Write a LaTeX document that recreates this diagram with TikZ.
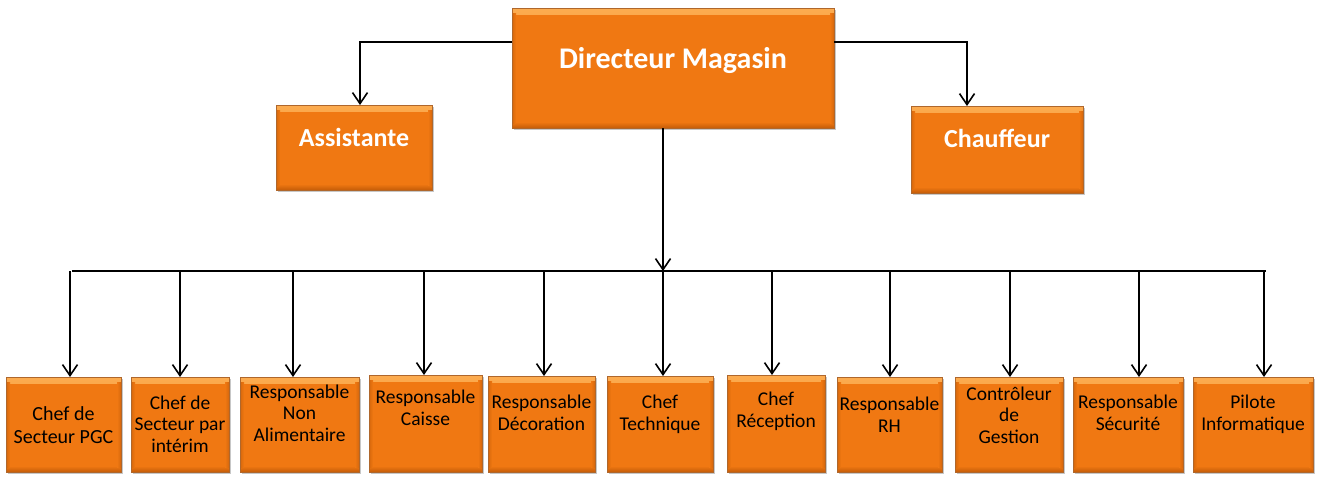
\documentclass[tikz,border=0pt]{standalone}
\usepackage{fontspec}
\setmainfont{Carlito}
\usetikzlibrary{arrows.meta,shadows}

\definecolor{org}{RGB}{240,120,18}
\definecolor{orglight}{RGB}{252,172,80}
\definecolor{orgdark}{RGB}{196,92,8}

\tikzset{
  obox/.style={rectangle, inner sep=0pt, outer sep=0pt, anchor=north west,
    fill=org, draw=orgdark!70!gray, line width=0.5pt,
    drop shadow={shadow xshift=1.5pt, shadow yshift=-1.5pt, fill=black, opacity=0.22},
    path picture={
      \shade[top color=orglight, bottom color=org]
        (path picture bounding box.north west) rectangle ([yshift=-6pt]path picture bounding box.north east);
      \shade[top color=org, bottom color=orgdark]
        ([yshift=6pt]path picture bounding box.south west) rectangle (path picture bounding box.south east);
      \shade[left color=orgdark!60!org, right color=org]
        ([yshift=-5pt]path picture bounding box.north west) rectangle ([xshift=4pt,yshift=5pt]path picture bounding box.south west);
      \shade[left color=org, right color=orgdark!60!org]
        ([xshift=-4pt,yshift=-5pt]path picture bounding box.north east) rectangle ([yshift=5pt]path picture bounding box.south east);
    }},
  ttl/.style={anchor=base, text=white, font=\bfseries\fontsize{26}{30}\selectfont, inner sep=0pt},
  % labels are placed by the baseline of their last line
  lbl/.style={anchor=base, text=black, align=center, inner sep=0pt,
    font=\fontsize{19.5}{21.5}\selectfont},
  conn/.style={draw=black, line width=1.6pt},
  arr/.style={conn, -{Straight Barb[length=11pt, width=15pt, line width=1.6pt]}},
}

\begin{document}
\begin{tikzpicture}[x=1pt, y=-1pt]
\useasboundingbox (0,0) rectangle (1317,477);

% top level
\node[obox, minimum width=322pt, minimum height=120pt] (dir) at (512,8) {};
\node[obox, minimum width=156pt, minimum height=85pt] (asst) at (276,105) {};
\node[obox, minimum width=172pt, minimum height=87pt] (chauf) at (911,106) {};
\node[ttl, font=\bfseries\fontsize{30}{34}\selectfont] (dirT) at (673,68) {Directeur Magasin};
\node[ttl] (asstT) at (354,146) {Assistante};
\node[ttl] (chaufT) at (997,147) {Chauffeur};

% bottom row boxes
\node[obox, minimum width=115pt, minimum height=95pt] (b1) at (6,377) {};
\node[obox, minimum width=98pt,  minimum height=95pt] (b2) at (131,377) {};
\node[obox, minimum width=119pt, minimum height=95pt] (b3) at (240,377) {};
\node[obox, minimum width=113pt, minimum height=97pt] (b4) at (369,375) {};
\node[obox, minimum width=107pt, minimum height=96pt] (b5) at (488,376) {};
\node[obox, minimum width=106pt, minimum height=96pt] (b6) at (607,376) {};
\node[obox, minimum width=98pt,  minimum height=97pt] (b7) at (727,375) {};
\node[obox, minimum width=105pt, minimum height=95pt] (b8) at (837,377) {};
\node[obox, minimum width=108pt, minimum height=95pt] (b9) at (955,377) {};
\node[obox, minimum width=110pt, minimum height=95pt] (b10) at (1073,377) {};
\node[obox, minimum width=120pt, minimum height=95pt] (b11) at (1193,377) {};

% bottom row labels
\node[lbl, font=\fontsize{20}{23}\selectfont] (l1) at (b1.center |- 0,443) {Chef de\\Secteur PGC};
\node[lbl] (l2) at (b2.center |- 0,452) {Chef de\\Secteur par\\intérim};
\node[lbl] (l3) at (b3.center |- 0,441) {Responsable\\Non\\Alimentaire};
\node[lbl] (l4) at (b4.center |- 0,425) {Responsable\\Caisse};
\node[lbl] (l5) at (b5.center |- 0,430) {Responsable\\Décoration};
\node[lbl] (l6) at (b6.center |- 0,430) {Chef\\Technique};
\node[lbl] (l7) at (b7.center |- 0,427) {Chef\\Réception};
\node[lbl] (l8) at (b8.center |- 0,432) {Responsable\\RH};
\node[lbl] (l9) at (b9.center |- 0,443) {Contrôleur\\de\\Gestion};
\node[lbl] (l10) at (b10.center |- 0,430) {Responsable\\Sécurité};
\node[lbl] (l11) at (b11.center |- 0,430) {Pilote\\Informatique};

% connectors to assistant and driver
\coordinate (la) at (360,42);
\coordinate (ra) at (967,42);
\draw[arr] (dir.west |- la) -- (la) -- (la |- asst.north);
\draw[arr] (dir.east |- ra) -- (ra) -- (ra |- chauf.north);

% main trunk and bus
\coordinate (busC) at (663,271);
\coordinate (busL) at (72,271);
\coordinate (busR) at (1266,271);
\draw[arr] (dir.south -| busC) -- (busC);
\draw[conn] (busL) -- (busR);

% drops to each department
\foreach \i/\x in {1/70, 2/180, 3/293, 4/424, 5/544, 6/663, 7/772, 8/890, 9/1010, 10/1139, 11/1264}{
  \coordinate (t\i) at (\x,271);
  \draw[arr] (t\i) -- (t\i |- b\i.north);
}
\end{tikzpicture}
\end{document}
